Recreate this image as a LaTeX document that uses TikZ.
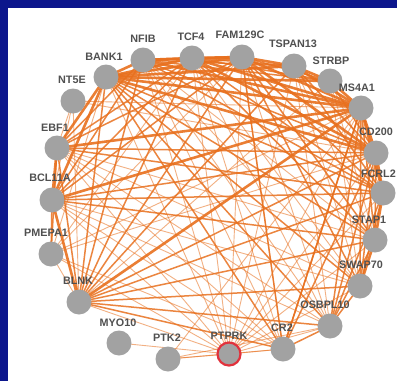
\documentclass[tikz,border=0pt]{standalone}
\usepackage{fontspec}
\setmainfont{Liberation Sans}
\begin{document}
\begin{tikzpicture}[x=1pt,y=-1pt,
  gene/.style={circle,fill=nodegray,draw=none,minimum size=25pt,inner sep=0pt},
  lab/.style={font=\bfseries\fontsize{10.8}{12}\selectfont,text=labgray,inner sep=0pt},
  tk/.style={draw=edgeor,line width=2.6pt,opacity=0.9},
  md/.style={draw=edgeor,line width=1.5pt,opacity=0.85},
  tn/.style={draw=edgeor,line width=0.9pt,opacity=0.55}]
\definecolor{nodegray}{RGB}{162,162,162}
\definecolor{labgray}{RGB}{80,80,80}
\definecolor{edgeor}{RGB}{232,112,30}
\definecolor{bordblue}{RGB}{12,22,140}
\useasboundingbox (0,0) rectangle (397,381);
\clip (0,0) rectangle (397,381);
\fill[white] (0,0) rectangle (397,381);
\fill[bordblue] (0,0) rectangle (397,7.5);
\fill[bordblue] (0,0) rectangle (7.5,381);
% node positions
\coordinate (a) at (143,60);
\coordinate (b) at (192,58);
\coordinate (c) at (242,57);
\coordinate (d) at (294,66);
\coordinate (e) at (330,81);
\coordinate (f) at (361,108);
\coordinate (g) at (376,153);
\coordinate (h) at (383,193);
\coordinate (i) at (375,240);
\coordinate (j) at (360,286);
\coordinate (k) at (330,326);
\coordinate (l) at (283,349);
\coordinate (m) at (229,354);
\coordinate (n) at (168,359);
\coordinate (o) at (119,343);
\coordinate (p) at (79,302);
\coordinate (q) at (51,254);
\coordinate (r) at (52,200);
\coordinate (s) at (57,148);
\coordinate (t) at (73,101);
\coordinate (u) at (106,77);
% thin edges
\foreach \x/\y in {m/u,m/a,m/b,m/c,m/d,m/f,m/g,m/h,m/i,m/j,m/k,m/l,m/p,m/r,m/s,m/q,o/m,n/m,n/l,n/k,n/f,t/s,t/r,t/f,t/g,q/f,q/g,q/c,q/b,q/p,q/l,r/j,r/k,r/l,s/i,s/j,s/k,s/l,a/i,a/j,a/k,a/l,b/j,b/k,b/l,c/k,c/l,d/i,d/j,d/k,e/h,e/i,e/j,p/e,u/q,t/p}
  \draw[tn] (\x) -- (\y);
% medium edges
\foreach \x/\y in {u/h,u/i,u/j,u/k,u/l,u/p,a/d,a/e,a/g,a/h,b/d,b/e,b/h,b/i,c/e,c/h,c/i,c/j,d/g,d/h,e/g,f/i,f/j,f/k,f/l,g/i,g/j,g/k,h/j,h/k,i/k,j/k,k/l,s/a,s/b,s/c,s/g,s/h,r/a,r/b,r/c,r/g,r/h,r/i,p/a,p/b,p/c,p/d,p/g,p/h,p/i,p/j,p/k,p/l,s/p,l/f,l/g,l/c,q/r,q/s}
  \draw[md] (\x) -- (\y);
% thick edges
\foreach \x/\y in {u/a,u/b,u/c,u/f,a/b,b/c,c/d,d/e,e/f,c/f,b/f,d/f,f/g,g/h,u/g,a/f,u/r,s/r,u/s,p/r,b/g,c/g,f/h,h/i,i/j,a/c,u/d,u/e,p/f,s/f,r/f}
  \draw[tk] (\x) -- (\y);
% nodes
\node[gene] (NFIB) at (a) {};
\node[gene] (TCF4) at (b) {};
\node[gene] (FAM) at (c) {};
\node[gene] (TSPAN) at (d) {};
\node[gene] (STRBP) at (e) {};
\node[gene] (MS4A1) at (f) {};
\node[gene] (CD200) at (g) {};
\node[gene] (FCRL) at (h) {};
\node[gene] (STAP1) at (i) {};
\node[gene] (SWAP) at (j) {};
\node[gene] (OSBPL) at (k) {};
\node[gene] (CR2) at (l) {};
\node[gene,draw={rgb,255:red,225;green,50;blue,60},line width=2.2pt,minimum size=23pt] (PTPRK) at (m) {};
\node[gene] (PTK2) at (n) {};
\node[gene] (MYO10) at (o) {};
\node[gene] (BLNK) at (p) {};
\node[gene] (PMEPA1) at (q) {};
\node[gene] (BCL11A) at (r) {};
\node[gene] (EBF1) at (s) {};
\node[gene] (NT5E) at (t) {};
\node[gene] (BANK1) at (u) {};
% labels
\node[lab] (lNFIB) at (143,39) {NFIB};
\node[lab] (lTCF4) at (191,37) {TCF4};
\node[lab] (lFAM) at (240,35) {FAM129C};
\node[lab] (lTSPAN) at (293,44) {TSPAN13};
\node[lab] (lSTRBP) at (331,61) {STRBP};
\node[lab] (lMS4A1) at (357,88) {MS4A1};
\node[lab] (lCD200) at (376,132) {CD200};
\node[lab,anchor=east] (lFCRL) at (396,174) {FCRL2};
\node[lab] (lSTAP1) at (369,220) {STAP1};
\node[lab] (lSWAP) at (361,265) {SWAP70};
\node[lab] (lOSBPL) at (325,305) {OSBPL10};
\node[lab] (lCR2) at (282,328) {CR2};
\node[lab] (lPTPRK) at (229,336) {PTPRK};
\node[lab] (lPTK2) at (167,338) {PTK2};
\node[lab] (lMYO10) at (118,323) {MYO10};
\node[lab] (lBLNK) at (78,281) {BLNK};
\node[lab] (lPMEPA1) at (46,233) {PMEPA1};
\node[lab] (lBCL11A) at (50,178) {BCL11A};
\node[lab] (lEBF1) at (55,128) {EBF1};
\node[lab] (lNT5E) at (72,80) {NT5E};
\node[lab] (lBANK1) at (104,57) {BANK1};
\end{tikzpicture}
\end{document}
